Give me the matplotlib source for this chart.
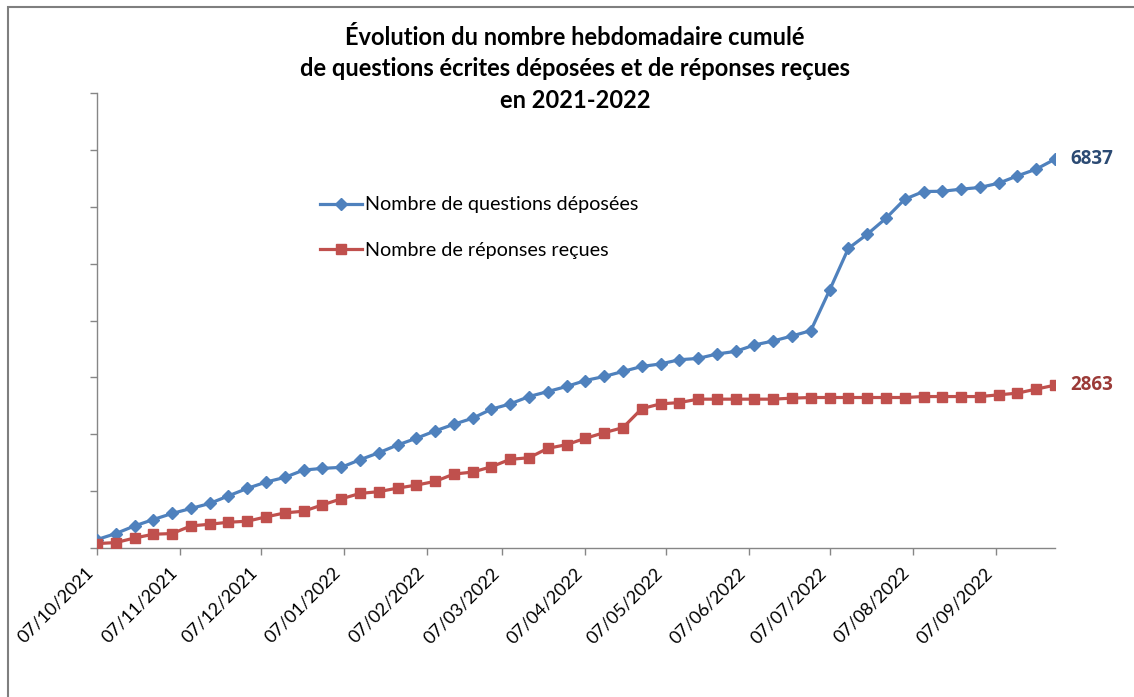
import matplotlib
matplotlib.use("Agg")
import matplotlib.pyplot as plt
import matplotlib.dates as mdates
from matplotlib.patches import Rectangle
import numpy as np
import pandas as pd

plt.rcParams['font.family'] = ['Lato', 'DejaVu Sans']

# Weekly cumulative counts, 07/10/2021 -> 29/09/2022
weeks = pd.date_range("2021-10-07", periods=52, freq="7D")

questions = [148, 254, 388, 501, 607, 695, 783, 917, 1048, 1159,
             1242, 1370, 1400, 1418, 1552, 1675, 1811, 1929, 2058, 2176,
             2282, 2441, 2534, 2663, 2751, 2840, 2945, 3016, 3104, 3192,
             3236, 3310, 3333, 3411, 3457, 3570, 3640, 3728, 3822, 4533,
             5268, 5515, 5797, 6132, 6268, 6272, 6309, 6339, 6414, 6543,
             6661, 6837]

reponses = [78, 95, 176, 242, 254, 388, 418, 453, 471, 547,
            617, 647, 758, 864, 959, 991, 1053, 1106, 1171, 1300,
            1335, 1429, 1559, 1587, 1753, 1817, 1929, 2028, 2116, 2450,
            2534, 2557, 2617, 2617, 2617, 2617, 2617, 2635, 2646, 2646,
            2646, 2646, 2646, 2646, 2663, 2663, 2663, 2663, 2693, 2723,
            2794, 2863]

label_q = "Nombre de questions déposées"
label_r = "Nombre de réponses reçues"
title = ("Évolution du nombre hebdomadaire cumulé\n"
         "de questions écrites déposées et de réponses reçues\n"
         "en 2021-2022")

BLUE = "#4F81BD"
RED = "#C0504D"
GRID = "#868686"

W, H = 1134, 697
fig = plt.figure(figsize=(W / 100, H / 100), dpi=100)

# chart-area frame (open at the right and bottom edges)
fig.add_artist(Rectangle((8 / W, -0.1), 1.2, 1 - 6.5 / H + 0.1,
                         transform=fig.transFigure, fill=False,
                         edgecolor="#7f7f7f", linewidth=1.5))

ax = fig.add_axes([97 / W, 1 - 548 / H, (1055 - 97) / W, (548 - 93) / H])

ax.plot(weeks, questions, color=BLUE, lw=2.3, marker="D", ms=6.5,
        label=label_q, zorder=3)
ax.plot(weeks, reponses, color=RED, lw=2.3, marker="s", ms=7,
        label=label_r, zorder=3)

ax.set_xlim(weeks[0], weeks[-1])
ax.set_ylim(0, 8000)
ax.set_yticks(np.arange(0, 8001, 1000))
ax.set_yticklabels([])

ax.xaxis.set_major_locator(mdates.MonthLocator(bymonthday=7))
ax.xaxis.set_major_formatter(mdates.DateFormatter("%d/%m/%Y"))
for lab in ax.get_xticklabels():
    lab.set_rotation(45)
    lab.set_ha("right")
    lab.set_va("top")
ax.tick_params(axis="x", labelsize=13, pad=7, length=5, color=GRID,
               width=1)
ax.tick_params(axis="y", length=5, color=GRID, width=1)

for side in ("top", "right"):
    ax.spines[side].set_visible(False)
for side in ("left", "bottom"):
    ax.spines[side].set_color(GRID)
    ax.spines[side].set_linewidth(1)

ax.annotate(f"{questions[-1]}", (weeks[-1], questions[-1]),
            xytext=(11, 0), textcoords="offset points", ha="left",
            va="center", fontsize=13.5, fontweight="bold", color="#2B4A73",
            family=["Open Sans", "DejaVu Sans"], annotation_clip=False)
ax.annotate(f"{reponses[-1]}", (weeks[-1], reponses[-1]),
            xytext=(11, 0), textcoords="offset points", ha="left",
            va="center", fontsize=13.5, fontweight="bold", color="#9B3A37",
            family=["Open Sans", "DejaVu Sans"], annotation_clip=False)

ax.legend(loc="upper left", bbox_to_anchor=(0.225, 0.79), frameon=False,
          fontsize=14.2, handlelength=2.1, handletextpad=0.15,
          labelspacing=1.45, borderaxespad=0)

fig.text(575 / W, 1 - 69 / H, title, ha="center", va="center",
         fontsize=17, fontweight="bold", linespacing=1.45)

fig.savefig("out.png", dpi=100, facecolor="white")
